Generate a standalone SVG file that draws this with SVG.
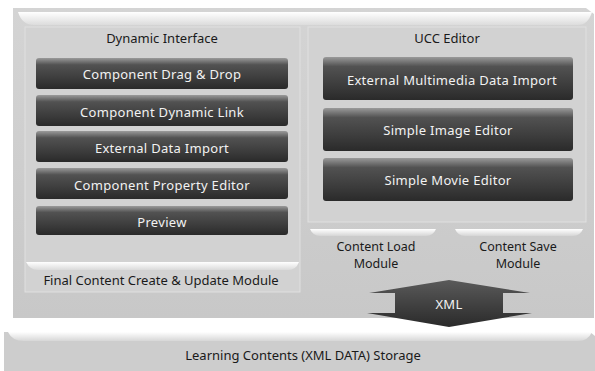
<svg xmlns="http://www.w3.org/2000/svg" width="595" height="371" viewBox="0 0 595 371">
<defs>
<linearGradient id="btn" x1="0" y1="0" x2="0" y2="1">
<stop offset="0" stop-color="#9a9a9a"/>
<stop offset="0.22" stop-color="#525252"/>
<stop offset="0.7" stop-color="#3a3a3a"/>
<stop offset="1" stop-color="#2a2a2a"/>
</linearGradient>
<linearGradient id="panel" x1="0" y1="0" x2="0" y2="1">
<stop offset="0" stop-color="#d4d4d4"/>
<stop offset="1" stop-color="#c8c8c8"/>
</linearGradient>
<linearGradient id="arrowFill" x1="0" y1="0" x2="0" y2="1">
<stop offset="0" stop-color="#5a5a5a"/>
<stop offset="1" stop-color="#2a2a2a"/>
</linearGradient>
<linearGradient id="shine" x1="0" y1="0" x2="0" y2="1">
<stop offset="0" stop-color="#ffffff"/>
<stop offset="1" stop-color="#ffffff" stop-opacity="0.2"/>
</linearGradient>
</defs>
<style>
.t{font-family:"Noto Sans","Open Sans","DejaVu Sans",sans-serif;font-size:13px;text-anchor:middle;dominant-baseline:central}
.s{font-size:12.5px}
.dark{fill:#1a1a1a}
.light{fill:#f2f2f2;letter-spacing:0.3px}
.btn{fill:url(#btn)}
.shine{fill:url(#shine)}
</style>
<rect x="0" y="0" width="595" height="371" fill="#ffffff"/>
<g id="frame">
<path d="M13 8 L586 8 L594 14 L594 318 L13 318 Z" fill="url(#panel)"/>
<path d="M18 12 Q22 25 34 25 L578 25 Q588 25 592 12 Z" class="shine"/>
<rect x="25" y="27" width="275" height="265" fill="#d2d2d2" stroke="#e0e0e0" stroke-width="1"/>
<rect x="308" y="27" width="278" height="195" fill="#d2d2d2" stroke="#e0e0e0" stroke-width="1"/>
</g>
<g id="dynamic-interface">
<text class="t dark" x="162" y="38">Dynamic Interface</text>
</g>
<g id="ucc-editor">
<text class="t dark" x="447" y="38">UCC Editor</text>
</g>
<g id="drag-drop">
<rect class="btn" x="36" y="58" width="252" height="31" rx="3"/>
<text class="t light" x="162" y="74">Component Drag &amp; Drop</text>
</g>
<g id="dynamic-link">
<rect class="btn" x="36" y="95" width="252" height="31" rx="3"/>
<text class="t light" x="162" y="112">Component Dynamic Link</text>
</g>
<g id="external-data-import">
<rect class="btn" x="36" y="131" width="252" height="31" rx="3"/>
<text class="t light" x="162" y="148">External Data Import</text>
</g>
<g id="property-editor">
<rect class="btn" x="36" y="168" width="252" height="31" rx="3"/>
<text class="t light" x="162" y="185">Component Property Editor</text>
</g>
<g id="preview">
<rect class="btn" x="36" y="206" width="252" height="29" rx="3"/>
<text class="t light" x="162" y="222">Preview</text>
</g>
<g id="multimedia-import">
<rect class="btn" x="323" y="57" width="250" height="43" rx="3"/>
<text class="t light" x="452" y="80">External Multimedia Data Import</text>
</g>
<g id="image-editor">
<rect class="btn" x="323" y="108" width="250" height="43" rx="3"/>
<text class="t light" x="448" y="130">Simple Image Editor</text>
</g>
<g id="movie-editor">
<rect class="btn" x="323" y="158" width="250" height="43" rx="3"/>
<text class="t light" x="448" y="180">Simple Movie Editor</text>
</g>
<g id="final-content">
<path d="M26 262 Q30 270 38 270 L288 270 Q296 270 299 262 Z" class="shine"/>
<text class="t dark" x="161" y="280">Final Content Create &amp; Update Module</text>
</g>
<g id="content-load">
<path d="M310 229 Q313 236 320 236 L426 236 Q433 236 436 229 Z" class="shine"/>
<text class="t s dark" x="376" y="246">Content Load</text>
<text class="t s dark" x="376" y="263">Module</text>
</g>
<g id="content-save">
<path d="M455 229 Q458 236 465 236 L573 236 Q580 236 583 229 Z" class="shine"/>
<text class="t s dark" x="518" y="246">Content Save</text>
<text class="t s dark" x="518" y="263">Module</text>
</g>
<g id="storage">
<path d="M4 332 L590 332 L595 336 L595 371 L4 371 Z" fill="#cdcdcd"/>
<path d="M8 332 Q12 341 24 341 L578 341 Q588 341 592 332 Z" class="shine"/>
<text class="t dark" x="303" y="355">Learning Contents (XML DATA) Storage</text>
</g>
<g id="connectors">
<path d="M449 280 L530 293 L503 293 L503 313 L532 313 L449 327 L367 313 L395 313 L395 293 L369 293 Z" fill="url(#arrowFill)"/>
<text class="t light" x="449" y="304">XML</text>
</g>
</svg>
